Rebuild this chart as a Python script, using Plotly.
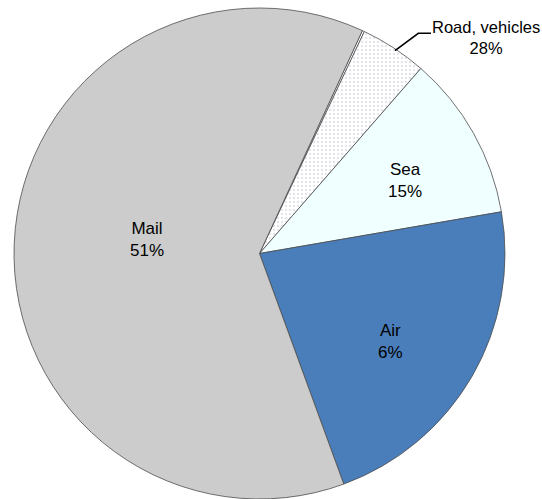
import plotly.graph_objects as go

# slices, clockwise from the thin sliver at the top
labels = ["Other", "Road, vehicles", "Sea", "Air", "Mail"]
shares = [0.14, 4.39, 10.87, 22.14, 62.46]
# the printed percentages on the chart (as shown in the source)
shown_pct = ["", "28%", "15%", "6%", "51%"]
colors = ["#ffffff", "#ffffff", "#f0ffff", "#4a7ebb", "#cccccc"]

W, H = 542, 499
M = dict(l=0, r=23, t=8, b=0)
FONT = "Liberation Sans, Arial, sans-serif"


def to_paper(sx, sy):
    # pixel -> paper coords
    pw = W - M["l"] - M["r"]
    ph = H - M["t"] - M["b"]
    return (sx - M["l"]) / pw, 1 - (sy - M["t"]) / ph


fig = go.Figure(go.Pie(
    labels=labels,
    values=shares,
    textinfo="none",
    sort=False,
    direction="clockwise",
    rotation=24.78,
    marker=dict(
        colors=colors,
        line=dict(color="#4d4d4d", width=0.8),
        pattern=dict(shape=["", ".", "", "", ""], fgcolor="#dcdce6",
                     bgcolor="#ffffff", size=4, solidity=0.2),
    ),
    showlegend=False,
    hoverinfo="label+percent",
))

# label anchor positions (px), anchor and font size for each slice label
label_pos = {"Mail": (147, 239, "center", 17), "Air": (390, 341.5, "center", 17),
             "Sea": (405, 180.5, "center", 17),
             "Road, vehicles": (541.5, 38, "right", 16.5)}
for lab, pct in zip(labels, shown_pct):
    if not pct:
        continue
    sx, sy, anchor, fsize = label_pos[lab]
    x, y = to_paper(sx, sy)
    fig.add_annotation(x=x, y=y, xref="paper", yref="paper", text=f"{lab}<br>{pct}",
                       showarrow=False, xanchor=anchor, yanchor="middle", align="center",
                       font=dict(family=FONT, size=fsize, color="#000000"))

# leader line for the outside label
pts = [to_paper(395, 50.7), to_paper(418.3, 33.3), to_paper(431, 33.3)]
path = "M " + " L ".join(f"{x},{y}" for x, y in pts)
fig.add_shape(type="path", path=path, xref="paper", yref="paper",
              line=dict(color="#000000", width=1.6))

fig.update_layout(
    width=W,
    height=H,
    margin=M,
    paper_bgcolor="#ffffff",
    plot_bgcolor="#ffffff",
)

# drop the default page margin so the 542x499 figure fills the window exactly
fig.write_html("out.html", config={"displayModeBar": False},
               post_script="document.body.style.margin='0';")
